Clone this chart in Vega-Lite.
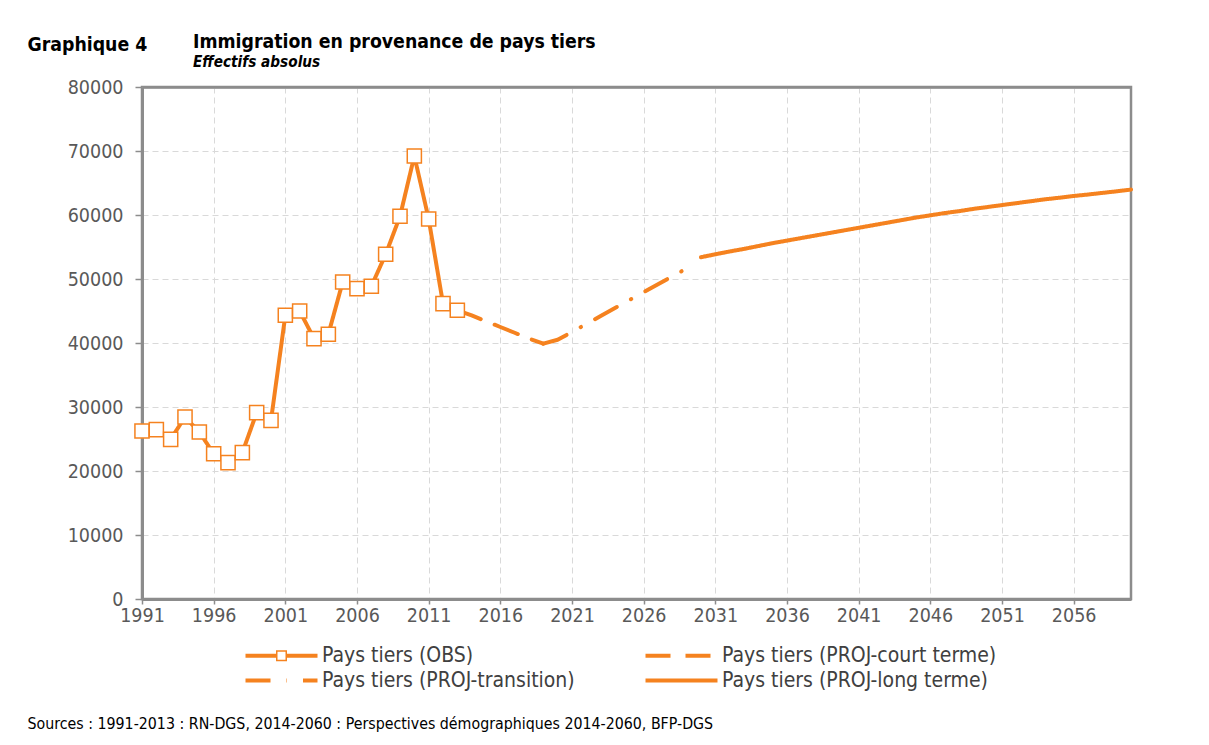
{
  "$schema": "https://vega.github.io/schema/vega-lite/v6.json",
  "width": 989,
  "height": 512,
  "autosize": {"type": "none"},
  "padding": {"left": 142, "top": 87, "right": 78, "bottom": 146},
  "background": "white",
  "title": {
    "text": "Immigration en provenance de pays tiers",
    "subtitle": "Effectifs absolus",
    "anchor": "start",
    "frame": "group",
    "dx": 51,
    "dy": 50,
    "offset": 15,
    "font": "DejaVu Sans Condensed, DejaVu Sans",
    "fontSize": 19.3,
    "fontWeight": "bold",
    "color": "#000000",
    "subtitleFont": "DejaVu Sans Condensed, DejaVu Sans",
    "subtitleFontSize": 15.2,
    "subtitleFontWeight": "bold",
    "subtitleFontStyle": "italic",
    "subtitleColor": "#000000",
    "subtitlePadding": 3
  },
  "data": {
    "values": [
      {"year": 1991, "value": 26250, "serie": "Pays tiers (OBS)"},
      {"year": 1992, "value": 26470, "serie": "Pays tiers (OBS)"},
      {"year": 1993, "value": 24950, "serie": "Pays tiers (OBS)"},
      {"year": 1994, "value": 28440, "serie": "Pays tiers (OBS)"},
      {"year": 1995, "value": 26090, "serie": "Pays tiers (OBS)"},
      {"year": 1996, "value": 22700, "serie": "Pays tiers (OBS)"},
      {"year": 1997, "value": 21300, "serie": "Pays tiers (OBS)"},
      {"year": 1998, "value": 22870, "serie": "Pays tiers (OBS)"},
      {"year": 1999, "value": 29120, "serie": "Pays tiers (OBS)"},
      {"year": 2000, "value": 27920, "serie": "Pays tiers (OBS)"},
      {"year": 2001, "value": 44330, "serie": "Pays tiers (OBS)"},
      {"year": 2002, "value": 45000, "serie": "Pays tiers (OBS)"},
      {"year": 2003, "value": 40690, "serie": "Pays tiers (OBS)"},
      {"year": 2004, "value": 41360, "serie": "Pays tiers (OBS)"},
      {"year": 2005, "value": 49530, "serie": "Pays tiers (OBS)"},
      {"year": 2006, "value": 48500, "serie": "Pays tiers (OBS)"},
      {"year": 2007, "value": 48860, "serie": "Pays tiers (OBS)"},
      {"year": 2008, "value": 53860, "serie": "Pays tiers (OBS)"},
      {"year": 2009, "value": 59800, "serie": "Pays tiers (OBS)"},
      {"year": 2010, "value": 69220, "serie": "Pays tiers (OBS)"},
      {"year": 2011, "value": 59380, "serie": "Pays tiers (OBS)"},
      {"year": 2012, "value": 46160, "serie": "Pays tiers (OBS)"},
      {"year": 2013, "value": 45110, "serie": "Pays tiers (OBS)"},
      {"year": 2013, "value": 45110, "serie": "Pays tiers (PROJ-court terme)"},
      {"year": 2014, "value": 44300, "serie": "Pays tiers (PROJ-court terme)"},
      {"year": 2015, "value": 43400, "serie": "Pays tiers (PROJ-court terme)"},
      {"year": 2016, "value": 42500, "serie": "Pays tiers (PROJ-court terme)"},
      {"year": 2017, "value": 41600, "serie": "Pays tiers (PROJ-court terme)"},
      {"year": 2018, "value": 40700, "serie": "Pays tiers (PROJ-court terme)"},
      {"year": 2019, "value": 39900, "serie": "Pays tiers (PROJ-court terme)"},
      {"year": 2019, "value": 39900, "serie": "Pays tiers (PROJ-transition)"},
      {"year": 2020, "value": 40500, "serie": "Pays tiers (PROJ-transition)"},
      {"year": 2021, "value": 41730, "serie": "Pays tiers (PROJ-transition)"},
      {"year": 2022, "value": 42980, "serie": "Pays tiers (PROJ-transition)"},
      {"year": 2023, "value": 44220, "serie": "Pays tiers (PROJ-transition)"},
      {"year": 2024, "value": 45470, "serie": "Pays tiers (PROJ-transition)"},
      {"year": 2025, "value": 46700, "serie": "Pays tiers (PROJ-transition)"},
      {"year": 2026, "value": 47950, "serie": "Pays tiers (PROJ-transition)"},
      {"year": 2027, "value": 49190, "serie": "Pays tiers (PROJ-transition)"},
      {"year": 2028, "value": 50420, "serie": "Pays tiers (PROJ-transition)"},
      {"year": 2029, "value": 51650, "serie": "Pays tiers (PROJ-transition)"},
      {"year": 2030, "value": 53400, "serie": "Pays tiers (PROJ-long terme)"},
      {"year": 2031, "value": 53860, "serie": "Pays tiers (PROJ-long terme)"},
      {"year": 2032, "value": 54300, "serie": "Pays tiers (PROJ-long terme)"},
      {"year": 2033, "value": 54700, "serie": "Pays tiers (PROJ-long terme)"},
      {"year": 2034, "value": 55150, "serie": "Pays tiers (PROJ-long terme)"},
      {"year": 2035, "value": 55600, "serie": "Pays tiers (PROJ-long terme)"},
      {"year": 2036, "value": 56000, "serie": "Pays tiers (PROJ-long terme)"},
      {"year": 2037, "value": 56400, "serie": "Pays tiers (PROJ-long terme)"},
      {"year": 2038, "value": 56800, "serie": "Pays tiers (PROJ-long terme)"},
      {"year": 2039, "value": 57200, "serie": "Pays tiers (PROJ-long terme)"},
      {"year": 2040, "value": 57600, "serie": "Pays tiers (PROJ-long terme)"},
      {"year": 2041, "value": 58000, "serie": "Pays tiers (PROJ-long terme)"},
      {"year": 2042, "value": 58400, "serie": "Pays tiers (PROJ-long terme)"},
      {"year": 2043, "value": 58800, "serie": "Pays tiers (PROJ-long terme)"},
      {"year": 2044, "value": 59200, "serie": "Pays tiers (PROJ-long terme)"},
      {"year": 2045, "value": 59600, "serie": "Pays tiers (PROJ-long terme)"},
      {"year": 2046, "value": 59950, "serie": "Pays tiers (PROJ-long terme)"},
      {"year": 2047, "value": 60300, "serie": "Pays tiers (PROJ-long terme)"},
      {"year": 2048, "value": 60600, "serie": "Pays tiers (PROJ-long terme)"},
      {"year": 2049, "value": 60950, "serie": "Pays tiers (PROJ-long terme)"},
      {"year": 2050, "value": 61250, "serie": "Pays tiers (PROJ-long terme)"},
      {"year": 2051, "value": 61550, "serie": "Pays tiers (PROJ-long terme)"},
      {"year": 2052, "value": 61850, "serie": "Pays tiers (PROJ-long terme)"},
      {"year": 2053, "value": 62150, "serie": "Pays tiers (PROJ-long terme)"},
      {"year": 2054, "value": 62450, "serie": "Pays tiers (PROJ-long terme)"},
      {"year": 2055, "value": 62700, "serie": "Pays tiers (PROJ-long terme)"},
      {"year": 2056, "value": 62970, "serie": "Pays tiers (PROJ-long terme)"},
      {"year": 2057, "value": 63200, "serie": "Pays tiers (PROJ-long terme)"},
      {"year": 2058, "value": 63450, "serie": "Pays tiers (PROJ-long terme)"},
      {"year": 2059, "value": 63700, "serie": "Pays tiers (PROJ-long terme)"},
      {"year": 2060, "value": 63970, "serie": "Pays tiers (PROJ-long terme)"}
    ]
  },
  "encoding": {
    "x": {
      "field": "year",
      "type": "quantitative",
      "scale": {"domain": [1991, 2060], "nice": false, "zero": false},
      "axis": {
        "values": [1991, 1996, 2001, 2006, 2011, 2016, 2021, 2026, 2031, 2036, 2041, 2046, 2051, 2056],
        "format": "d",
        "title": "Sources : 1991-2013 : RN-DGS, 2014-2060 : Perspectives démographiques 2014-2060, BFP-DGS",
        "titleAnchor": "start",
        "titleAlign": "left",
        "titleBaseline": "alphabetic",
        "titleX": -115,
        "titleY": 129,
        "titleFont": "DejaVu Sans Condensed, DejaVu Sans",
        "titleFontSize": 15.8,
        "titleFontWeight": "normal",
        "titleColor": "#000000"
      }
    },
    "y": {
      "field": "value",
      "type": "quantitative",
      "scale": {"domain": [0, 80000], "nice": false},
      "axis": {
        "values": [0, 10000, 20000, 30000, 40000, 50000, 60000, 70000, 80000],
        "format": "d",
        "title": "Graphique 4",
        "titleAngle": 0,
        "titleAlign": "left",
        "titleBaseline": "alphabetic",
        "titleX": -115,
        "titleY": -37,
        "titleFont": "DejaVu Sans Condensed, DejaVu Sans",
        "titleFontSize": 19.3,
        "titleFontWeight": "bold",
        "titleColor": "#000000",
        "tickSize": 7,
        "labelPadding": 12,
        "gridColor": {"condition": {"test": "datum.value === 80000", "value": "#8C8C8C"}, "value": "#D9D9D9"},
        "gridDash": {"condition": {"test": "datum.value === 80000", "value": [1, 0]}, "value": [6, 4]},
        "gridWidth": {"condition": {"test": "datum.value === 80000", "value": 2.5}, "value": 1}
      }
    }
  },
  "layer": [
    {
      "mark": {"type": "line", "color": "#F5821F", "strokeWidth": 4, "strokeCap": "round", "strokeJoin": "round"},
      "encoding": {
        "strokeDash": {
          "field": "serie",
          "type": "nominal",
          "scale": {
            "domain": ["Pays tiers (OBS)", "Pays tiers (PROJ-transition)", "Pays tiers (PROJ-court terme)", "Pays tiers (PROJ-long terme)"],
            "range": [[1, 0], [25, 16, 0.5, 16], [25, 15], [1, 0]]
          },
          "legend": {
            "orient": "none",
            "legendX": 103,
            "legendY": 558,
            "columns": 2,
            "title": null,
            "symbolSize": 400,
            "symbolOffset": 0,
            "symbolStrokeWidth": 4,
            "symbolStrokeColor": "#F5821F",
            "labelFont": "DejaVu Sans Condensed, DejaVu Sans",
            "labelFontSize": 21,
            "labelColor": "#404040",
            "labelOffset": 56,
            "labelLimit": 500,
            "rowPadding": 3,
            "columnPadding": 62,
            "encode": {
              "symbols": {
                "update": {
                  "shape": {"signal": "datum.value === 'Pays tiers (OBS)' ? 'M-1,-0.2H2.05V0.2H-1ZM3.15,-0.2H6.2V0.2H3.15ZM2.05,-0.55H3.15V0.55H2.05ZM2.2,-0.4V0.4H3V-0.4Z' : 'M-1,0H6.2'"},
                  "fill": {"signal": "datum.value === 'Pays tiers (OBS)' ? '#F5821F' : 'transparent'"},
                  "stroke": {"value": "#F5821F"},
                  "strokeWidth": {"signal": "datum.value === 'Pays tiers (OBS)' ? 0 : 4"},
                  "opacity": {"value": 1}
                }
              }
            }
          }
        }
      }
    },
    {
      "transform": [{"filter": "datum.serie === 'Pays tiers (OBS)'"}],
      "mark": {"type": "square", "size": 200, "fill": "#FFFFFF", "stroke": "#F5821F", "strokeWidth": 1.5, "opacity": 1}
    }
  ],
  "config": {
    "view": {"stroke": "#8C8C8C", "strokeWidth": 2.5},
    "axis": {
      "domainColor": "#8C8C8C",
      "domainWidth": 3,
      "tickColor": "#8C8C8C",
      "tickWidth": 1.5,
      "gridColor": "#D9D9D9",
      "gridDash": [6, 4],
      "gridWidth": 1,
      "labelFont": "DejaVu Sans Condensed, DejaVu Sans",
      "labelFontSize": 19.5,
      "labelColor": "#595959"
    },
    "axisX": {"tickSize": 5, "labelPadding": 2, "labelFlush": false, "labelOverlap": false},
    "axisY": {"labelOverlap": false}
  }
}
